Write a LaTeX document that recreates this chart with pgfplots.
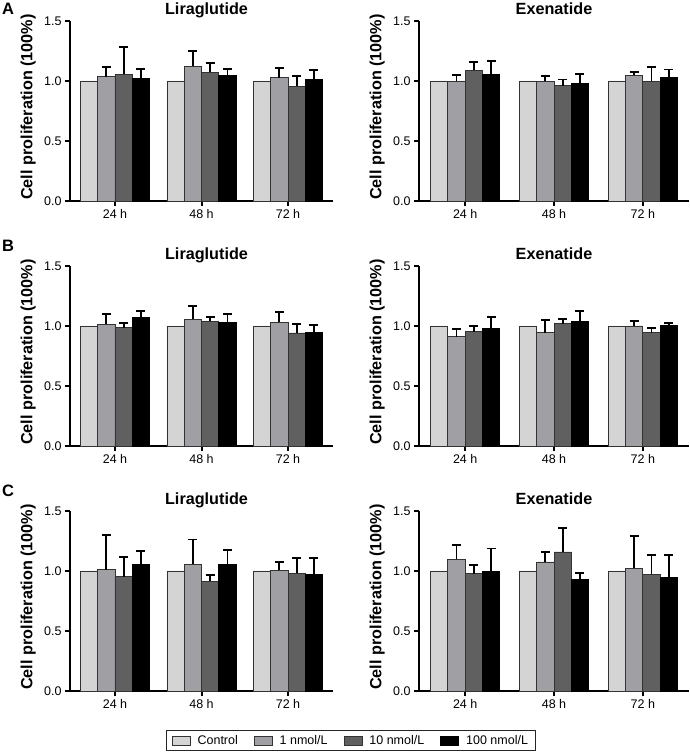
\documentclass[border=0pt]{standalone}
\usepackage{fontspec}
\setmainfont{Liberation Sans}
\usepackage{pgfplots}
\pgfplotsset{compat=1.18}
\definecolor{cA}{RGB}{212,212,212}
\definecolor{cB}{RGB}{160,160,164}
\definecolor{cC}{RGB}{96,96,96}
\definecolor{cD}{RGB}{0,0,0}
\newcommand\tickfont{\fontsize{12.5}{14}\selectfont}
\newcommand\labfont{\bfseries\fontsize{16.2}{18}\selectfont}
\newcommand\letfont{\bfseries\fontsize{16.5}{18}\selectfont}
\newcommand\legfont{\fontsize{12.5}{14}\selectfont}
\pgfplotsset{
  eb/.style={
    error bars/y dir=plus, error bars/y explicit,
    error bars/error bar style={line width=1.8pt, black},
    error bars/error mark options={rotate=90, mark size=4.5pt, line width=1.8pt, black}},
  s0/.style={fill=cA, draw=black!80, line width=0.8pt},
  s1/.style={fill=cB, draw=black!80, line width=0.8pt, eb},
  s2/.style={fill=cC, draw=black!80, line width=0.8pt, eb},
  s3/.style={fill=cD, draw=black, line width=0.8pt, eb},
  panel/.style={
    scale only axis, height=180pt,
    ymin=0, ymax=1.5, xmin=-0.52, xmax=2.52,
    axis x line*=bottom, axis y line*=left,
    axis line style={line width=2pt, black},
    tick style={line width=2pt, black}, major tick length=5pt, tick align=outside,
    ytick={0,0.5,1,1.5},
    yticklabel style={/pgf/number format/fixed, /pgf/number format/fixed zerofill, /pgf/number format/precision=1},
    xtick={0,1,2}, xticklabels={24 h,48 h,72 h},
    ybar=0pt, bar width=17.3pt,
    tick label style={font=\tickfont},
    /pgf/number format/assume math mode=true,
    ylabel={Cell proliferation (100\%)},
    every axis y label/.style={at={(axis description cs:0,0.5)}, xshift=-34pt, yshift=4pt, rotate=90, anchor=south, inner sep=0pt, font=\labfont},
    every axis title/.style={at={(axis description cs:0.5,1)}, anchor=base, yshift=6pt, inner sep=0pt, font=\labfont},
    clip=false,
  },
}
\begin{document}
\begin{tikzpicture}
\path[use as bounding box] (0,0) rectangle (690pt,752pt);
% ---------- A ----------
\begin{axis}[panel, width=263pt, at={(70pt,551pt)}, anchor=south west, title={Liraglutide}, title style={xshift=5pt}]
\addplot[s0] coordinates {(0,1) (1,1) (2,1)};
\addplot[s1] coordinates {(0,1.036) +- (0,0.081) (1,1.122) +- (0,0.128) (2,1.028) +- (0,0.079)};
\addplot[s2] coordinates {(0,1.056) +- (0,0.229) (1,1.072) +- (0,0.080) (2,0.956) +- (0,0.086)};
\addplot[s3] coordinates {(0,1.019) +- (0,0.078) (1,1.044) +- (0,0.053) (2,1.013) +- (0,0.076)};
\end{axis}
\begin{axis}[panel, width=270pt, at={(419pt,551pt)}, anchor=south west, title={Exenatide}]
\addplot[s0] coordinates {(0,1) (1,1) (2,1)};
\addplot[s1] coordinates {(0,0.997) +- (0,0.053) (1,0.997) +- (0,0.042) (2,1.046) +- (0,0.026)};
\addplot[s2] coordinates {(0,1.089) +- (0,0.068) (1,0.961) +- (0,0.052) (2,0.997) +- (0,0.120)};
\addplot[s3] coordinates {(0,1.056) +- (0,0.108) (1,0.980) +- (0,0.078) (2,1.030) +- (0,0.066)};
\end{axis}
% ---------- B ----------
\begin{axis}[panel, width=263pt, at={(70pt,306pt)}, anchor=south west, title={Liraglutide}, title style={xshift=5pt}]
\addplot[s0] coordinates {(0,1) (1,1) (2,1)};
\addplot[s1] coordinates {(0,1.014) +- (0,0.083) (1,1.056) +- (0,0.113) (2,1.031) +- (0,0.088)};
\addplot[s2] coordinates {(0,0.986) +- (0,0.042) (1,1.039) +- (0,0.039) (2,0.942) +- (0,0.075)};
\addplot[s3] coordinates {(0,1.072) +- (0,0.056) (1,1.028) +- (0,0.069) (2,0.947) +- (0,0.061)};
\end{axis}
\begin{axis}[panel, width=270pt, at={(419pt,306pt)}, anchor=south west, title={Exenatide}]
\addplot[s0] coordinates {(0,1) (1,1) (2,1)};
\addplot[s1] coordinates {(0,0.911) +- (0,0.064) (1,0.944) +- (0,0.109) (2,1.000) +- (0,0.044)};
\addplot[s2] coordinates {(0,0.953) +- (0,0.050) (1,1.019) +- (0,0.042) (2,0.944) +- (0,0.039)};
\addplot[s3] coordinates {(0,0.978) +- (0,0.100) (1,1.039) +- (0,0.089) (2,1.006) +- (0,0.016)};
\end{axis}
% ---------- C ----------
\begin{axis}[panel, width=263pt, at={(70pt,61pt)}, anchor=south west, title={Liraglutide}, title style={xshift=5pt},
  legend columns=4,
  legend image code/.code={\draw[#1] (0pt,-4.5pt) rectangle (18pt,4.5pt);},
  legend style={at={(axis description cs:1.068,-0.275)}, anchor=center, draw=black!85, line width=0.8pt,
    font=\legfont, inner xsep=5pt, inner ysep=3pt,
    /tikz/every odd column/.append style={column sep=5pt},
    /tikz/every even column/.append style={column sep=14pt}},
  legend cell align=left]
\addplot[s0] coordinates {(0,1) (1,1) (2,1)};
\addplot[s1] coordinates {(0,1.011) +- (0,0.289) (1,1.056) +- (0,0.206) (2,1.006) +- (0,0.072)};
\addplot[s2] coordinates {(0,0.953) +- (0,0.164) (1,0.914) +- (0,0.053) (2,0.981) +- (0,0.128)};
\addplot[s3] coordinates {(0,1.056) +- (0,0.111) (1,1.056) +- (0,0.122) (2,0.972) +- (0,0.137)};
\legend{Control, 1 nmol/L, 10 nmol/L, 100 nmol/L}
\end{axis}
\begin{axis}[panel, width=270pt, at={(419pt,61pt)}, anchor=south west, title={Exenatide}]
\addplot[s0] coordinates {(0,1) (1,1) (2,1)};
\addplot[s1] coordinates {(0,1.097) +- (0,0.117) (1,1.075) +- (0,0.081) (2,1.022) +- (0,0.268)};
\addplot[s2] coordinates {(0,0.978) +- (0,0.075) (1,1.159) +- (0,0.198) (2,0.972) +- (0,0.164)};
\addplot[s3] coordinates {(0,0.997) +- (0,0.190) (1,0.930) +- (0,0.053) (2,0.947) +- (0,0.189)};
\end{axis}
% panel letters
\node[anchor=base west, font=\letfont, inner sep=0pt] at (2pt,737pt) {A};
\node[anchor=base west, font=\letfont, inner sep=0pt] at (2pt,500pt) {B};
\node[anchor=base west, font=\letfont, inner sep=0pt] at (2pt,255pt) {C};
\end{tikzpicture}
\end{document}
